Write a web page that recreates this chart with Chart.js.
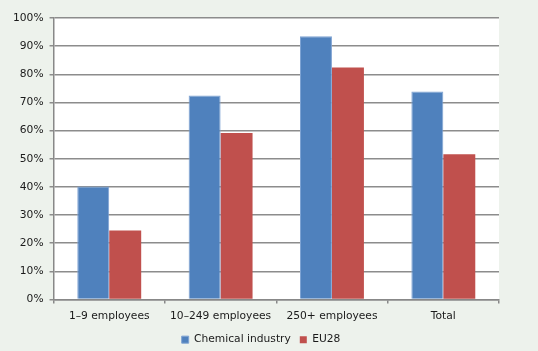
<!DOCTYPE html>
<html>
<head>
<meta charset="utf-8">
<script src="https://cdn.jsdelivr.net/npm/chart.js@4/dist/chart.umd.min.js"></script>
<style>
html,body{margin:0;padding:0;background:#edf2ec;}
#wrap{width:538px;height:351px;position:relative;}
</style>
</head>
<body>
<div id="wrap"><canvas id="c" width="538" height="351"></canvas></div>
<script>
const categories = ["1\u20139 employees", "10\u2013249 employees", "250+ employees", "Total"];
const chemicalIndustry = [40.1, 72.5, 93.5, 73.9];
const eu28 = [24.5, 59.1, 82.4, 51.6];
const yTicks = [0, 10, 20, 30, 40, 50, 60, 70, 80, 90, 100];

const plotBg = {
  id: 'plotBg',
  beforeDraw(chart) {
    const {ctx, chartArea: a} = chart;
    ctx.save();
    ctx.fillStyle = '#ffffff';
    ctx.fillRect(a.left, a.top, a.right - a.left, a.bottom - a.top);
    ctx.restore();
  }
};

const legendShift = {
  id: 'legendShift',
  afterLayout(chart) {
    const lg = chart.legend;
    if (!lg) return;
    const dx = 8, dy = -3;
    lg.left += dx; lg.right += dx;
    lg.top += dy; lg.bottom += dy;
  }
};

Chart.defaults.font.family = "'DejaVu Sans', Verdana, sans-serif";
Chart.defaults.font.size = 10.7;
Chart.defaults.color = '#1a1a1a';

new Chart(document.getElementById('c'), {
  type: 'bar',
  data: {
    labels: categories,
    datasets: [
      {label: 'Chemical industry', data: chemicalIndustry, backgroundColor: '#4f81bd', borderColor: '#7fa3d3', borderWidth: 1, borderSkipped: 'bottom'},
      {label: 'EU28', data: eu28, backgroundColor: '#c0504d', borderColor: '#d27f7d', borderWidth: 0}
    ]
  },
  options: {
    responsive: false,
    animation: false,
    devicePixelRatio: 1,
    layout: {padding: {top: 18, right: 39, left: 7, bottom: -7}},
    datasets: {bar: {categoryPercentage: 0.574, barPercentage: 1.0}},
    plugins: {
      legend: {
        position: 'bottom',
        labels: {boxWidth: 7, boxHeight: 7, padding: 9, color: '#1a1a1a'}
      },
      tooltip: {enabled: false}
    },
    scales: {
      x: {
        grid: {drawOnChartArea: false, drawTicks: true, tickLength: 4, color: '#888888', lineWidth: 1.5, offset: true},
        border: {color: '#888888', width: 1.5},
        ticks: {padding: 6, color: '#1a1a1a'}
      },
      y: {
        min: 0, max: 100,
        afterBuildTicks(axis) { axis.ticks = yTicks.map(v => ({value: v})); },
        grid: {color: '#8c8c8c', lineWidth: 1.5, tickLength: 4, drawTicks: true},
        border: {color: '#888888', width: 1.5},
        ticks: {padding: 6, color: '#1a1a1a', callback: v => v + '%'}
      }
    }
  },
  plugins: [plotBg, legendShift]
});
</script>
</body>
</html>
